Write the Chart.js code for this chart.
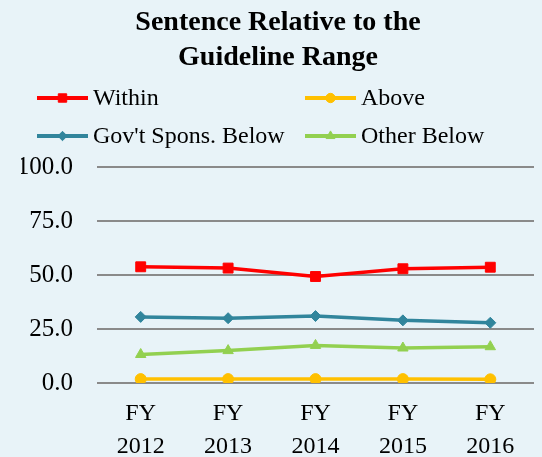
<!DOCTYPE html>
<html>
<head>
<meta charset="utf-8">
<script src="https://cdn.jsdelivr.net/npm/chart.js@4/dist/chart.umd.min.js"></script>
<style>
  html, body { margin: 0; padding: 0; background: #E8F3F8; }
  #wrap { width: 542px; height: 457px; position: relative; }
</style>
</head>
<body>
<div id="wrap"><canvas id="c" width="542" height="457"></canvas></div>
<script>
const categories = [['FY', '2012'], ['FY', '2013'], ['FY', '2014'], ['FY', '2015'], ['FY', '2016']];
const seriesNames = ['Within', 'Above', "Gov't Spons. Below", 'Other Below'];
const within = [53.8, 53.2, 49.3, 52.9, 53.6];
const above = [1.8, 1.8, 1.8, 1.8, 1.7];
const govSponsBelow = [30.6, 30.0, 31.0, 29.0, 27.9];
const otherBelow = [13.2, 15.0, 17.4, 16.2, 16.8];
const yTicks = [0, 25, 50, 75, 100];

const SERIF = '"Liberation Serif", "Times New Roman", serif';

function ds(label, data, color, style, radius) {
  return {
    label, data,
    borderColor: color, backgroundColor: color,
    borderWidth: 3.5,
    pointStyle: style, pointRadius: radius, pointHoverRadius: radius,
    pointBorderWidth: 1, pointBorderColor: color, pointBackgroundColor: color,
    tension: 0, fill: false
  };
}

const legendPlugin = {
  id: 'twoColLegend',
  afterDraw(chart) {
    const ctx = chart.ctx;
    const cols = [37, 305];
    const rows = [98, 136];
    ctx.save();
    ctx.font = '24px ' + SERIF;
    ctx.textBaseline = 'middle';
    chart.data.datasets.forEach((d, i) => {
      const x = cols[i % 2], y = rows[Math.floor(i / 2)];
      ctx.strokeStyle = d.borderColor;
      ctx.lineWidth = 4;
      ctx.beginPath(); ctx.moveTo(x, y); ctx.lineTo(x + 51, y); ctx.stroke();
      ctx.fillStyle = d.borderColor;
      ctx.lineWidth = 1;
      Chart.helpers.drawPoint(ctx, { pointStyle: d.pointStyle, radius: d.pointRadius * 0.85, borderWidth: 1, rotation: 0 }, x + 25.5, y);
      ctx.fillStyle = '#000';
      ctx.fillText(d.label, x + 56, y + 1);
    });
    ctx.restore();
  }
};

new Chart(document.getElementById('c'), {
  type: 'line',
  data: {
    labels: categories,
    datasets: [
      ds(seriesNames[0], within, '#FF0000', 'rect', 7),
      ds(seriesNames[1], above, '#FFC000', 'circle', 5.5),
      ds(seriesNames[2], govSponsBelow, '#31859C', 'rectRot', 5.5),
      ds(seriesNames[3], otherBelow, '#92D050', 'triangle', 6)
    ]
  },
  options: {
    responsive: false,
    animation: false,
    layout: { padding: { left: 21, right: 7, top: 0, bottom: 0 } },
    plugins: {
      legend: { display: false },
      tooltip: { enabled: false },
      title: {
        display: true,
        text: ['Sentence Relative to the', 'Guideline Range'],
        color: '#000',
        font: { family: SERIF, size: 28, weight: 'bold', lineHeight: 1.25 },
        padding: { top: 5, bottom: 92 }
      }
    },
    scales: {
      x: {
        offset: true,
        grid: { display: false, drawTicks: false },
        border: { display: false },
        ticks: { color: '#000', font: { family: SERIF, size: 24, lineHeight: 1.35 }, padding: 15, maxRotation: 0, autoSkip: false },
        afterFit(scale) { scale.height = 74; }
      },
      y: {
        min: 0, max: 100,
        afterBuildTicks(scale) { scale.ticks = yTicks.map(v => ({ value: v })); },
        grid: { color: '#8A8A8A', lineWidth: 2, drawTicks: false },
        border: { display: false },
        ticks: { color: '#000', font: { family: SERIF, size: 25 }, padding: 24, callback: v => Number(v).toFixed(1) },
        afterFit(scale) { scale.width = 76; }
      }
    }
  },
  plugins: [legendPlugin]
});
</script>
</body>
</html>
